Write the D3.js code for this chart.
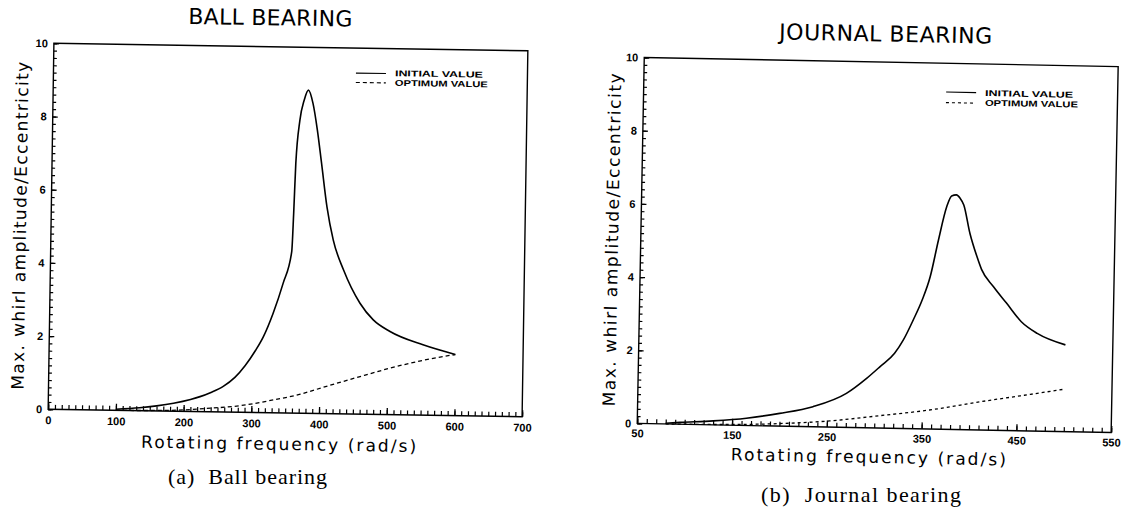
<!DOCTYPE html>
<html><head><meta charset="utf-8">
<script src="https://cdn.jsdelivr.net/npm/d3@7"></script>
<style>
html,body{margin:0;padding:0;background:#fff;}
svg{display:block;}
</style></head>
<body>
<svg id="chart" width="1127" height="512"></svg>
<script>
// ---------- data ----------
const ballInitFreq = [100, 135, 160, 185, 210, 224, 240, 258, 275, 290, 305, 316, 330, 344, 356, 358, 360, 365, 371, 377, 384, 391, 398, 407, 417, 433, 458, 478, 503, 552, 600];
const ballInitVal  = [0.03, 0.08, 0.14, 0.22, 0.33, 0.41, 0.53, 0.70, 0.95, 1.28, 1.70, 2.07, 2.72, 3.54, 4.41, 5.46, 6.83, 8.0, 8.56, 8.83, 8.47, 7.75, 6.84, 5.65, 4.75, 3.93, 3.03, 2.58, 2.27, 1.92, 1.67];
const ballOptFreq  = [100, 150, 200, 234, 283, 332, 372, 406, 455, 504, 553, 600];
const ballOptVal   = [0.0, 0.01, 0.04, 0.09, 0.18, 0.35, 0.52, 0.72, 1.0, 1.27, 1.5, 1.67];

const journalInitFreq = [80, 95, 130, 165, 200, 235, 270, 291, 305, 320, 329, 339, 348, 356, 364, 372, 377, 382, 386, 390, 397, 405, 410, 423, 437, 453, 470, 500];
const journalInitVal  = [0.02, 0.05, 0.11, 0.2, 0.35, 0.55, 0.93, 1.35, 1.68, 2.05, 2.42, 2.97, 3.52, 4.16, 5.17, 6.08, 6.38, 6.41, 6.32, 6.14, 5.37, 4.73, 4.39, 3.92, 3.48, 2.98, 2.67, 2.37];
const journalOptFreq  = [80, 150, 200, 253, 306, 358, 411, 464, 500];
const journalOptVal   = [0.0, 0.02, 0.07, 0.17, 0.34, 0.52, 0.77, 1.0, 1.16];

const ballXTicks    = [0, 100, 200, 300, 400, 500, 600, 700];
const journalXTicks = [50, 150, 250, 350, 450, 550];
const yTicks        = [0, 2, 4, 6, 8, 10];

const titles      = ["BALL BEARING", "JOURNAL BEARING"];
const captions    = ["(a)  Ball bearing", "(b)  Journal bearing"];
const legendNames = ["INITIAL VALUE", "OPTIMUM VALUE"];
const xTitle = "Rotating frequency (rad/s)";
const yTitle = "Max. whirl amplitude/Eccentricity";

// ---------- drawing ----------
const svg = d3.select('#chart');
const W = 474, H = 366;
const sans = "'DejaVu Sans', sans-serif";
const tickFont = "'Liberation Sans', Arial, sans-serif";

function drawPanel(p) {
  const g = svg.append('g').attr('transform', `rotate(${p.angle},${p.cx},${p.cy})`);
  const x = d3.scaleLinear().domain(p.xDomain).range([p.left, p.left + W]);
  const y = d3.scaleLinear().domain([0, 10]).range([p.top + H, p.top]);

  // minor x ticks (every 10)
  g.append('g').attr('transform', `translate(0,${p.top + H})`)
    .call(d3.axisBottom(x).tickValues(d3.range(p.xDomain[0], p.xDomain[1] + 0.001, 10))
      .tickSizeInner(-4.5).tickSizeOuter(0).tickFormat(''))
    .call(a => a.select('.domain').remove())
    .call(a => a.selectAll('line').attr('stroke-width', 1.2));
  // major x ticks + labels
  g.append('g').attr('transform', `translate(0,${p.top + H})`)
    .call(d3.axisBottom(x).tickValues(p.xTicks).tickSizeInner(-6.5).tickSizeOuter(0)
      .tickPadding(p.xPad).tickFormat(d3.format('d')))
    .call(a => a.select('.domain').remove())
    .call(a => a.selectAll('line').attr('stroke-width', 1.3))
    .attr('font-family', tickFont).attr('font-size', 11).attr('font-weight', 'bold');
  // minor y ticks (every 0.2)
  g.append('g').attr('transform', `translate(${p.left},0)`)
    .call(d3.axisLeft(y).tickValues(d3.range(0, 10.001, 0.2))
      .tickSizeInner(-3.2).tickSizeOuter(0).tickFormat(''))
    .call(a => a.select('.domain').remove())
    .call(a => a.selectAll('line').attr('stroke-width', 1.2));
  // major y ticks + labels
  g.append('g').attr('transform', `translate(${p.left},0)`)
    .call(d3.axisLeft(y).tickValues(yTicks).tickSizeInner(-5).tickSizeOuter(0)
      .tickPadding(6).tickFormat(d3.format('d')))
    .call(a => a.select('.domain').remove())
    .call(a => a.selectAll('line').attr('stroke-width', 1.3))
    .attr('font-family', tickFont).attr('font-size', 11).attr('font-weight', 'bold');

  // frame
  g.append('rect').attr('x', p.left).attr('y', p.top).attr('width', W).attr('height', H)
    .attr('fill', 'none').attr('stroke', '#000').attr('stroke-width', 1.4);

  const line = d3.line().x(d => x(d[0])).y(d => y(d[1])).curve(d3.curveMonotoneX);
  g.append('path').datum(d3.zip(p.optF, p.optV)).attr('d', line)
    .attr('fill', 'none').attr('stroke', '#000').attr('stroke-width', 1.3)
    .attr('stroke-dasharray', p.dash);
  g.append('path').datum(d3.zip(p.initF, p.initV)).attr('d', line)
    .attr('fill', 'none').attr('stroke', '#000').attr('stroke-width', 1.6);

  // legend
  const R = p.left + W;
  const lg = g.append('g');
  lg.append('line').attr('x1', R - 171.5).attr('x2', R - 141.5)
    .attr('y1', p.top + p.leg[0]).attr('y2', p.top + p.leg[0])
    .attr('stroke', '#000').attr('stroke-width', 1.2);
  lg.append('line').attr('x1', R - 171.5).attr('x2', R - 141.5)
    .attr('y1', p.top + p.leg[1]).attr('y2', p.top + p.leg[1])
    .attr('stroke', '#000').attr('stroke-width', 1.1).attr('stroke-dasharray', p.dash);
  lg.append('text').attr('x', R - 132.5).attr('y', p.top + p.leg[2])
    .attr('font-family', tickFont).attr('font-size', 8.5).attr('font-weight', 'bold')
    .attr('textLength', 88).attr('lengthAdjust', 'spacingAndGlyphs').text(legendNames[0]);
  lg.append('text').attr('x', R - 132.5).attr('y', p.top + p.leg[3])
    .attr('font-family', tickFont).attr('font-size', 8.5).attr('font-weight', 'bold')
    .attr('textLength', 93).attr('lengthAdjust', 'spacingAndGlyphs').text(legendNames[1]);

  // titles
  g.append('text').attr('x', p.titleX).attr('y', p.titleY).attr('text-anchor', 'middle')
    .attr('font-family', sans).attr('font-size', 22)
    .attr('textLength', p.titleLen).attr('lengthAdjust', 'spacing').text(p.title);
  g.append('text').attr('x', p.xtX).attr('y', p.xtY).attr('text-anchor', 'middle')
    .attr('font-family', sans).attr('font-size', 17)
    .attr('textLength', 275).attr('lengthAdjust', 'spacing').text(xTitle);
  g.append('text').attr('transform', `translate(${p.ytX},${p.cy}) rotate(-90)`)
    .attr('text-anchor', 'middle')
    .attr('font-family', sans).attr('font-size', 17)
    .attr('textLength', p.ytLen).attr('lengthAdjust', 'spacing').text(yTitle);

  // caption (typeset, not rotated)
  svg.append('text').attr('x', p.capX).attr('y', p.capY).attr('text-anchor', 'middle')
    .attr('font-family', "'Liberation Serif', 'Times New Roman', serif").attr('font-size', 22)
    .attr('textLength', p.capLen).attr('lengthAdjust', 'spacing')
    .style('white-space', 'pre').text(p.caption);
}

drawPanel({
  angle: 0.9, cx: 288, cy: 230, left: 51, top: 47,
  xDomain: [0, 700], xTicks: ballXTicks, xPad: 7,
  initF: ballInitFreq, initV: ballInitVal, optF: ballOptFreq, optV: ballOptVal,
  dash: '4,3', leg: [25, 34.4, 27.5, 37.2],
  title: titles[0], titleX: 267, titleY: 25.5, titleLen: 164,
  xtX: 282, xtY: 450, ytX: 26, ytLen: 328,
  caption: captions[0], capX: 247.5, capY: 484, capLen: 159
});
drawPanel({
  angle: 1.1, cx: 877.7, cy: 245, left: 640.7, top: 62,
  xDomain: [50, 550], xTicks: journalXTicks, xPad: 6,
  initF: journalInitFreq, initV: journalInitVal, optF: journalOptFreq, optV: journalOptVal,
  dash: '3,3', leg: [28.7, 39.3, 32, 41.7],
  title: titles[1], titleX: 881.6, titleY: 41.4, titleLen: 213,
  xtX: 872.5, xtY: 463, ytX: 618, ytLen: 333,
  caption: captions[1], capX: 861, capY: 502, capLen: 200
});
</script>
</body></html>
